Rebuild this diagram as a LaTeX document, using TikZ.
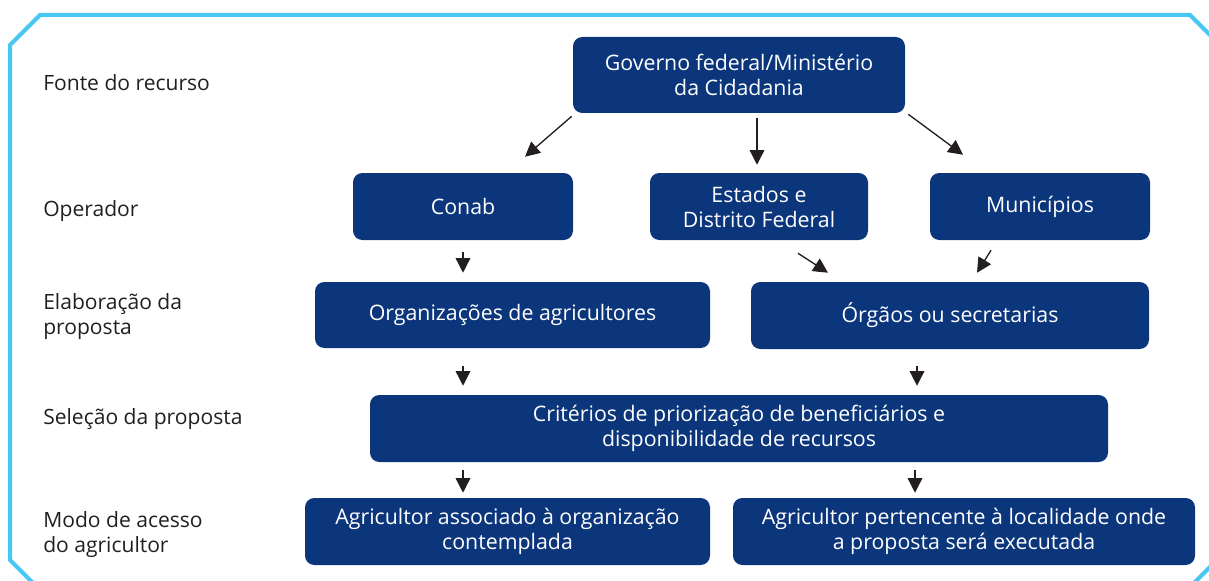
\documentclass[tikz,border=0pt]{standalone}
\usepackage{fontspec}
\setmainfont{Open Sans}
\usetikzlibrary{arrows.meta}
\definecolor{boxblue}{RGB}{12,54,124}
\definecolor{framecyan}{RGB}{70,200,242}
\definecolor{labelgray}{RGB}{35,31,32}
\tikzset{
  bluebox/.style={draw=none, fill=boxblue, rounded corners=7pt, inner sep=0pt,
    text=white, align=center, font=\fontsize{16}{18.75}\selectfont},
  rowlabel/.style={anchor=west, inner sep=0pt, text=labelgray, align=left,
    font=\fontsize{15.8}{18.75}\selectfont},
  arr/.style={draw=labelgray, line width=1pt, -{Triangle[length=11pt,width=11pt]}},
  frameline/.style={draw=framecyan, line width=3pt, line join=miter}
}
\begin{document}
\begin{tikzpicture}[x=0.75pt,y=-0.75pt]
\useasboundingbox (0,0) rectangle (1209,581);
% frame
\draw[frameline] (33,583) -- (10,560) -- (10,45) -- (40,15) -- (1190,15) -- (1215,40);
\draw[frameline] (1215,562) -- (1193,584);
% row labels
\node[rowlabel] (l1) at (43,83) {Fonte do recurso};
\node[rowlabel] (l2) at (43,211) {Operador};
\node[rowlabel] (l3) at (43,317) {Elaboração da\\proposta};
\node[rowlabel] (l4) at (43,419) {Seleção da proposta};
\node[rowlabel] (l5) at (43,535) {Modo de acesso\\do agricultor};
% boxes
\node[bluebox, minimum width=249pt, minimum height=57pt] (gov) at (739,75) {Governo federal/Ministério\\da Cidadania};
\node[bluebox, minimum width=165pt, minimum height=50.25pt] (conab) at (463,206.5) {Conab};
\node[bluebox, minimum width=163.5pt, minimum height=50.25pt] (est) at (759,206.5) {Estados e\\Distrito Federal};
\node[bluebox, minimum width=165pt, minimum height=50.25pt] (mun) at (1040,206.5) {Municípios};
\node[bluebox, minimum width=296.25pt, minimum height=49.5pt] (org) at (512.5,315) {Organizações de agricultores};
\node[bluebox, minimum width=298.5pt, minimum height=50.25pt] (orgaos) at (950,315.5) {Órgãos ou secretarias};
\node[bluebox, minimum width=553.5pt, minimum height=50.25pt] (crit) at (739,428.5) {Critérios de priorização de beneficiários e\\disponibilidade de recursos};
\node[bluebox, minimum width=303.75pt, minimum height=50.25pt] (agr1) at (507.5,531.5) {Agricultor associado à organização\\contemplada};
\node[bluebox, minimum width=346.5pt, minimum height=50.25pt] (agr2) at (964,531.5) {Agricultor pertencente à localidade onde\\a proposta será executada};
% arrows
\draw[arr] ([shift={(-1,3)}]gov.south west) -- ([shift={(62,-16)}]conab.north);
\draw[arr] ([shift={(18,5)}]gov.south) -- ([shift={(-2,-8)}]est.north);
\draw[arr] ([shift={(3,1)}]gov.south east) -- ([shift={(-77,-18)}]mun.north);
\draw[arr] ([shift={(0,12)}]conab.south) -- ([shift={(-49.5,-9)}]org.north);
\draw[arr] ([shift={(39,13)}]est.south) -- ([shift={(-122,-9)}]orgaos.north);
\draw[arr] ([shift={(-49,10)}]mun.south) -- ([shift={(27,-9)}]orgaos.north);
\draw[arr] ([shift={(-49.5,18)}]org.south) -- ([shift={(-276,-9)}]crit.north);
\draw[arr] ([shift={(-33,17)}]orgaos.south) -- ([shift={(178,-9)}]crit.north);
\draw[arr] ([shift={(-276,8)}]crit.south) -- ([shift={(-44.5,-5)}]agr1.north);
\draw[arr] ([shift={(176,8)}]crit.south) -- ([shift={(-49,-5)}]agr2.north);
\end{tikzpicture}
\end{document}
